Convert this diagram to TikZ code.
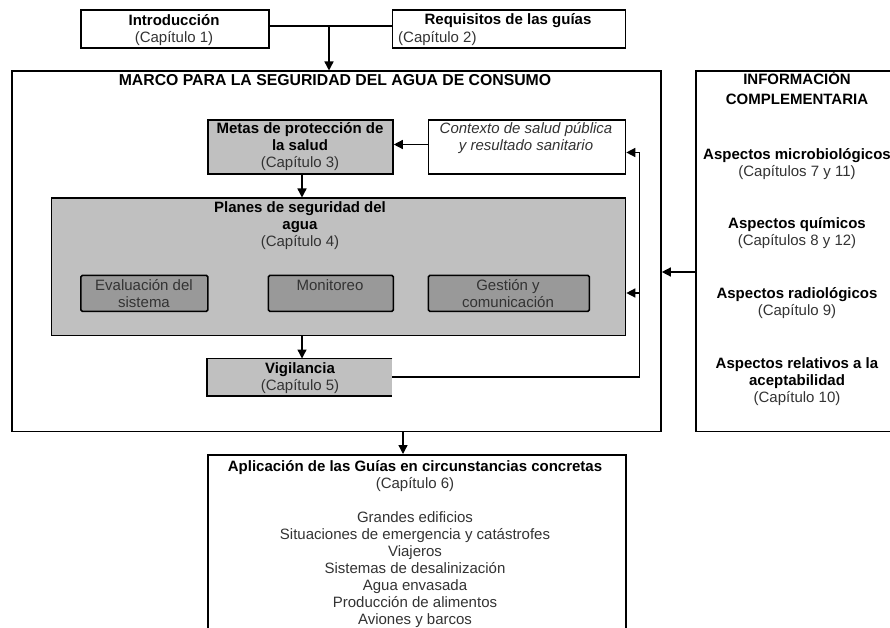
\documentclass[tikz,border=0pt]{standalone}
\usepackage{fontspec}
\setmainfont{Liberation Sans}
\usetikzlibrary{arrows.meta}
\definecolor{lightfill}{HTML}{C0C0C0}
\definecolor{darkfill}{HTML}{999999}
\definecolor{softtext}{HTML}{333333}
\begin{document}
\begin{tikzpicture}[x=1pt,y=-1pt,
  frame/.style={rectangle,draw=black,line width=1.8pt,inner sep=0pt,anchor=north west},
  graybox/.style={frame,fill=lightfill},
  subbox/.style={frame,fill=darkfill,rounded corners=1.5pt,line width=1.7pt},
  lbl/.style={inner sep=0pt,anchor=base,align=center,font=\fontsize{15}{17}\selectfont},
  reg/.style={lbl,text=softtext},
  conn/.style={line width=1.4pt},
  arr/.style={conn,-{Triangle[length=9pt,width=9pt]}},
]
\clip (0,0) rectangle (890,628);
\fill[white] (0,0) rectangle (890,628);

% ---------- boxes ----------
\node[frame,minimum width=188pt,minimum height=38pt] (intro) at (80,9.5) {};
\node[frame,minimum width=233pt,minimum height=38pt] (req) at (391.5,9.5) {};
\node[frame,minimum width=649pt,minimum height=360pt] (marco) at (11,70.5) {};
\node[frame,minimum width=210pt,minimum height=360pt] (info) at (695,70.5) {};
\node[graybox,minimum width=185pt,minimum height=54pt] (metas) at (207,119.5) {};
\node[frame,fill=white,minimum width=197pt,minimum height=54pt] (ctx) at (427.5,119.5) {};
\node[graybox,minimum width=574pt,minimum height=137pt] (planes) at (50.5,197.5) {};
\node[subbox,minimum width=127pt,minimum height=36pt] (eval) at (80,274.5) {};
\node[subbox,minimum width=125pt,minimum height=36pt] (mon) at (267.5,274.5) {};
\node[subbox,minimum width=161pt,minimum height=36pt] (gest) at (427.5,274.5) {};
\node[rectangle,fill=lightfill,inner sep=0pt,anchor=north west,minimum width=185pt,minimum height=37pt] (vig) at (207,358.5) {};
\draw[line width=1.8pt] (vig.north east) -- (vig.north west) -- (vig.south west) -- (vig.south east);
\node[frame,minimum width=418pt,minimum height=220pt] (apl) at (207,454) {};

% ---------- texts (anchor = baseline of the last line) ----------
\node[lbl] (introT) at (174,42.5) {\textbf{Introducción}\\\textcolor{softtext}{(Capítulo 1)}};
\node[lbl] (reqT) at (508,25) {\textbf{Requisitos de las guías}};
\node[reg,anchor=base west] (reqC) at (398,42.5) {(Capítulo 2)};
\node[lbl,font=\fontsize{15.8}{17}\selectfont] (marcoT) at (335,86) {\textbf{MARCO PARA LA SEGURIDAD DEL AGUA DE CONSUMO}};

\node[lbl,font=\fontsize{15}{20}\selectfont] (infoT) at (797,105) {\textbf{INFORMACIÓN}\\\textbf{COMPLEMENTARIA}};
\node[lbl] (infoA) at (797,176.5) {\textbf{Aspectos microbiológicos}\\\textcolor{softtext}{(Capítulos 7 y 11)}};
\node[lbl] (infoB) at (797,245.5) {\textbf{Aspectos químicos}\\\textcolor{softtext}{(Capítulos 8 y 12)}};
\node[lbl] (infoC) at (797,315.5) {\textbf{Aspectos radiológicos}\\\textcolor{softtext}{(Capítulo 9)}};
\node[lbl] (infoD) at (797,402.5) {\textbf{Aspectos relativos a la}\\\textbf{aceptabilidad}\\\textcolor{softtext}{(Capítulo 10)}};

\node[lbl] (metasT) at (300,168) {\textbf{Metas de protección de}\\\textbf{la salud}\\\textcolor{softtext}{(Capítulo 3)}};
\node[reg,font=\fontsize{15}{17}\selectfont\itshape] (ctxT) at (526,151) {Contexto de salud pública\\y resultado sanitario};
\node[lbl] (planesT) at (300,246) {\textbf{Planes de seguridad del}\\\textbf{agua}\\\textcolor{softtext}{(Capítulo 4)}};
\node[reg] (evalT) at (144,307) {Evaluación del\\sistema};
\node[reg] (monT) at (330,290) {Monitoreo};
\node[reg] (gestT) at (508,307) {Gestión y\\comunicación};
\node[lbl] (vigT) at (300,390) {\textbf{Vigilancia}\\\textcolor{softtext}{(Capítulo 5)}};

\node[lbl] (aplT) at (415,488) {\textbf{Aplicación de las Guías en circunstancias concretas}\\\textcolor{softtext}{(Capítulo 6)}};
\node[reg] (aplL) at (415,624) {Grandes edificios\\Situaciones de emergencia y catástrofes\\Viajeros\\Sistemas de desalinización\\Agua envasada\\Producción de alimentos\\Aviones y barcos};

% ---------- connectors ----------
\coordinate (topj) at (329,26);
\draw[conn] (intro.east |- topj) -- (req.west |- topj);
\draw[arr] (topj) -- (topj |- marco.north);

\coordinate (ctxy) at (0,144.5);
\draw[arr] (ctx.west |- ctxy) -- (metas.east |- ctxy);

\coordinate (midx) at (302,0);
\draw[arr] (metas.south -| midx) -- (planes.north -| midx);
\draw[arr] (planes.south -| midx) -- (vig.north -| midx);

\coordinate (fbbot) at (639.5,377);
\coordinate (fbtop) at (639.5,152.5);
\coordinate (fbmid) at (639.5,293);
\draw[arr,line join=miter] (vig.east |- fbbot) -- (fbbot) -- (fbtop) -- (ctx.east |- fbtop);
\draw[arr] (fbmid) -- (planes.east |- fbmid);

\coordinate (infoy) at (0,272);
\draw[arr] (info.west |- infoy) -- (marco.east |- infoy);

\coordinate (downx) at (403,0);
\draw[arr] (marco.south -| downx) -- (apl.north -| downx);
\end{tikzpicture}
\end{document}
